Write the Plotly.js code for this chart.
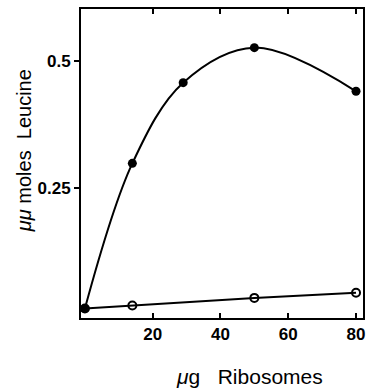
<!DOCTYPE html>
<html>
<head>
<meta charset="utf-8">
<script src="https://cdn.plot.ly/plotly-3.0.1.min.js"></script>
<style>html,body{margin:0;padding:0;background:#fff;}#chart{width:369px;height:391px;}</style>
</head>
<body>
<div id="chart"></div>
<script>
// Data
const ribosomesFilled = [0, 14, 29, 50, 80];
const leucineFilled = [0.012, 0.298, 0.457, 0.526, 0.440];
const ribosomesOpen = [0, 14, 50, 80];
const leucineOpen = [0.012, 0.018, 0.033, 0.043];
const xTickVals = [20, 40, 60, 80];
const xTickText = ['20', '40', '60', '80'];
const yTickVals = [0.25, 0.5];
const yTickText = ['0.25', '0.5'];
const xTitle = '<i>μ</i>g\u00a0\u00a0 Ribosomes';
const yTitle = '<i>μμ</i> moles\u00a0 Leucine';

const traces = [
  {
    x: ribosomesOpen, y: leucineOpen, type: 'scatter', mode: 'lines+markers',
    line: {color: '#000', width: 2},
    marker: {symbol: 'circle-open', size: 8, color: '#000', line: {width: 2, color: '#000'}},
    hoverinfo: 'skip'
  },
  {
    x: ribosomesFilled, y: leucineFilled, type: 'scatter', mode: 'lines+markers',
    line: {color: '#000', width: 2, shape: 'spline', smoothing: 1},
    marker: {symbol: 'circle', size: 9, color: '#000'},
    hoverinfo: 'skip'
  }
];

const layout = {
  width: 369, height: 391,
  margin: {l: 81, r: 6, t: 9, b: 73},
  paper_bgcolor: '#fff', plot_bgcolor: '#fff',
  showlegend: false,
  font: {family: 'Liberation Sans, Arial, sans-serif', color: '#000'},
  xaxis: {
    range: [-1.15, 82.06],
    tickvals: xTickVals, ticktext: xTickText,
    ticks: 'inside', ticklen: 5, tickwidth: 2, tickcolor: '#000',
    showline: true, linewidth: 2, linecolor: '#000', mirror: 'ticks',
    showgrid: false, zeroline: false,
    tickfont: {size: 17, weight: 'bold', color: '#000'}
  },
  yaxis: {
    range: [-0.0066, 0.6021],
    tickvals: yTickVals, ticktext: yTickText,
    ticks: 'outside', ticklen: 5, tickwidth: 2, tickcolor: '#000',
    showline: true, linewidth: 2, linecolor: '#000', mirror: true,
    showgrid: false, zeroline: false,
    tickfont: {size: 17, weight: 'bold', color: '#000'}
  },
  annotations: [
    {text: xTitle, xref: 'paper', yref: 'paper', x: 0.599, y: -0.190,
     xanchor: 'center', yanchor: 'middle', showarrow: false,
     font: {size: 21, color: '#000'}},
    {text: yTitle, xref: 'paper', yref: 'paper', x: -0.202, y: 0.540,
     xanchor: 'center', yanchor: 'middle', showarrow: false, textangle: -90,
     font: {size: 20, color: '#000'}}
  ]
};

Plotly.newPlot('chart', traces, layout, {staticPlot: true, displayModeBar: false});
</script>
</body>
</html>
